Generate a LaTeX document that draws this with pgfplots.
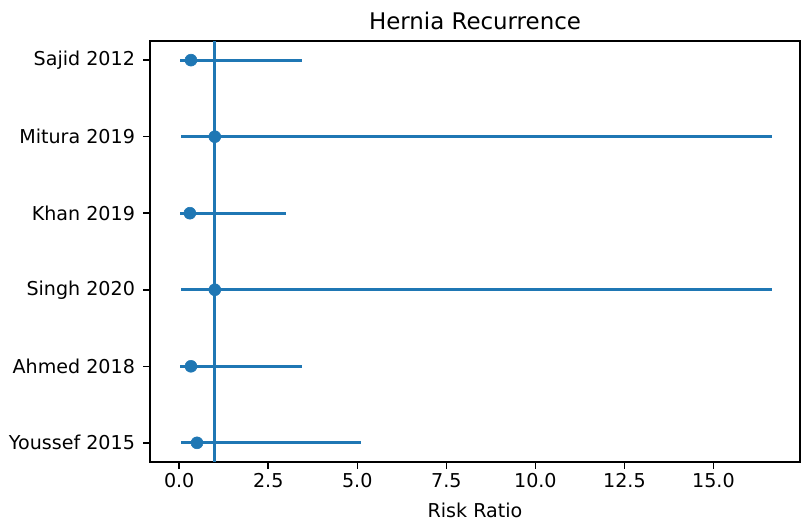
\documentclass[border=0pt]{standalone}
\usepackage{pgfplots}
\pgfplotsset{compat=1.18}
\usepackage{fontspec}
\setmainfont{DejaVu Sans}
\definecolor{mplblue}{HTML}{1F77B4}
\begin{document}
\begin{tikzpicture}
\begin{axis}[
  at={(0,0)}, anchor=south west,
  scale only axis, width=468pt, height=303.1pt,
  xmin=-0.82, xmax=17.43, ymin=-0.25, ymax=5.25,
  xtick={0,2.5,5,7.5,10,12.5,15},
  ytick={0,1,2,3,4,5},
  xtick pos=lower, ytick pos=left,
  yticklabels={Youssef 2015, Ahmed 2018, Singh 2020, Khan 2019, Mitura 2019, Sajid 2012},
  /pgf/number format/assume math mode=true,
  tick align=outside, major tick length=4.8pt,
  tick style={black, line width=1.1pt},
  axis line style={line width=1.1pt},
  title={Hernia Recurrence},
  title style={font=\fontsize{16.5}{19}\selectfont, at={(0.5,1)}, anchor=base, yshift=2.3pt},
  xlabel={Risk Ratio},
  xlabel style={font=\fontsize{13.75}{16}\selectfont, at={(0.5,0)}, anchor=base, yshift=-40.3pt},
  tick label style={font=\fontsize{13.75}{16}\selectfont},
  xticklabel style={/pgf/number format/.cd, fixed, fixed zerofill, precision=1},
  yticklabel style={xshift=-2.5pt},
  clip=false,
]
\addplot[mplblue, line width=2.06pt, forget plot] coordinates {(1,-0.25) (1,5.25)};
\addplot[mplblue, only marks, mark=*, mark size=4.3pt,
  error bars/.cd, x dir=both, x explicit, error mark=none,
  error bar style={line width=2.06pt, mplblue}]
  coordinates {
  (0.50,0) -= (0.45,0) += (4.60,0)
  (0.33,1) -= (0.32,0) += (3.11,0)
  (1.00,2) -= (0.94,0) += (15.63,0)
  (0.30,3) -= (0.29,0) += (2.70,0)
  (1.00,4) -= (0.94,0) += (15.63,0)
  (0.33,5) -= (0.32,0) += (3.11,0)
  };
\end{axis}
\pgfresetboundingbox
\path[use as bounding box] (-108pt,-45.36pt) rectangle (468.72pt,332.62pt);
\end{tikzpicture}
\end{document}
